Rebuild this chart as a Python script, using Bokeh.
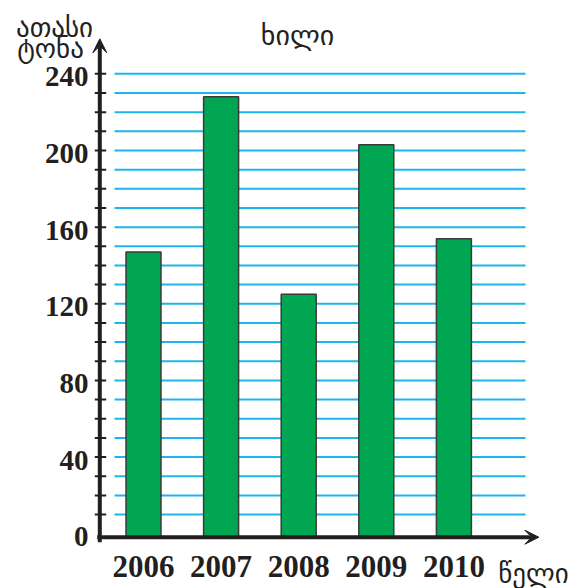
from bokeh.plotting import figure
from bokeh.models import Range1d, Arrow, VeeHead
from bokeh.core.properties import value
from bokeh.embed import file_html
from bokeh.resources import INLINE

# ---- data ----
years = [2006, 2007, 2008, 2009, 2010]
tons = [147, 228, 125, 203, 154]
y_tick_labels = [0, 40, 80, 120, 160, 200, 240]
grid_values = [10, 20, 30, 40, 50, 60, 70, 80, 90, 100, 110, 120,
               130, 140, 150, 160, 170, 180, 190, 200, 210, 220, 230, 240]
chart_title = "ხილი"
y_title_lines = ["ათასი", "ტონა"]
x_title = "წელი"

# ---- layout (page pixels -> data) ----
W, H = 580, 588
PX_X0, PX_PER_YEAR = 143.0, 77.6      # pixel of first year, pixels per year
PX_Y0, PX_PER_UNIT = 533.2, 1.916     # pixel of value 0, pixels per unit
X0 = years[0] - PX_X0 / PX_PER_YEAR
X1 = years[0] + (W - PX_X0) / PX_PER_YEAR
Y0 = -(H - PX_Y0) / PX_PER_UNIT
Y1 = PX_Y0 / PX_PER_UNIT

INK = "#231f20"
GREEN = "#00a651"
CYAN = "#1eb4ec"


def dx(px):
    return years[0] + (px - PX_X0) / PX_PER_YEAR


def dy(py):
    return (PX_Y0 - py) / PX_PER_UNIT


p = figure(width=W, height=H, output_backend="svg", toolbar_location=None,
           x_range=Range1d(X0, X1), y_range=Range1d(Y0, Y1),
           min_border=0)
p.axis.visible = False
p.outline_line_color = None
p.xgrid.visible = False
p.ygrid.visible = False
p.background_fill_color = "white"
p.border_fill_color = "white"

AXIS_X = dx(99.3)
AXIS_Y = dy(536.7)

# horizontal grid lines
n = len(grid_values)
p.segment(x0=[dx(114)] * n, y0=grid_values, x1=[dx(525)] * n, y1=grid_values,
          line_color=CYAN, line_width=2)

# bars
p.vbar(x=years, top=tons, bottom=AXIS_Y, width=35 / PX_PER_YEAR,
       fill_color=GREEN, line_color="#3a3a3a", line_width=1.5)

# y ticks
p.segment(x0=[dx(94.3)] * n, y0=grid_values, x1=[dx(105.7)] * n, y1=grid_values,
          line_color=INK, line_width=2)

# axes with arrow heads
p.add_layout(Arrow(end=VeeHead(size=14, fill_color=INK, line_color=INK, line_width=1),
                   x_start=AXIS_X, y_start=dy(541.7), x_end=AXIS_X, y_end=dy(38.3),
                   line_color=INK, line_width=4))
p.add_layout(Arrow(end=VeeHead(size=14, fill_color=INK, line_color=INK, line_width=1),
                   x_start=dx(96.7), y_start=AXIS_Y, x_end=dx(538.3), y_end=AXIS_Y,
                   line_color=INK, line_width=4))

# y tick labels
p.text(x=[dx(88)] * len(y_tick_labels), y=y_tick_labels,
       text=[str(v) for v in y_tick_labels],
       text_font=value("Liberation Serif"), text_font_style="bold",
       text_font_size=value("29px"), text_color=INK,
       text_align="right", text_baseline="middle", y_offset=3)

# x tick labels
p.text(x=years, y=[dy(566)] * len(years), text=[str(y) for y in years],
       text_font=value("Liberation Serif"), text_font_style="bold",
       text_font_size=value("31px"), text_color=INK,
       text_align="center", text_baseline="middle")

# Georgian texts
GEO = value("DejaVu Sans")
p.text(x=[dx(54), dx(50)], y=[dy(27), dy(48)], text=y_title_lines,
       text_font=GEO, text_font_size=value("27px"), text_color=INK,
       text_align="center", text_baseline="alphabetic")
p.text(x=[dx(297)], y=[dy(35)], text=[chart_title],
       text_font=GEO, text_font_size=value("28px"), text_color=INK,
       text_align="center", text_baseline="alphabetic")
p.text(x=[dx(533)], y=[dy(573)], text=[x_title],
       text_font=GEO, text_font_size=value("27px"), text_color=INK,
       text_align="center", text_baseline="alphabetic")

open("out.html", "w").write(file_html(p, INLINE))
